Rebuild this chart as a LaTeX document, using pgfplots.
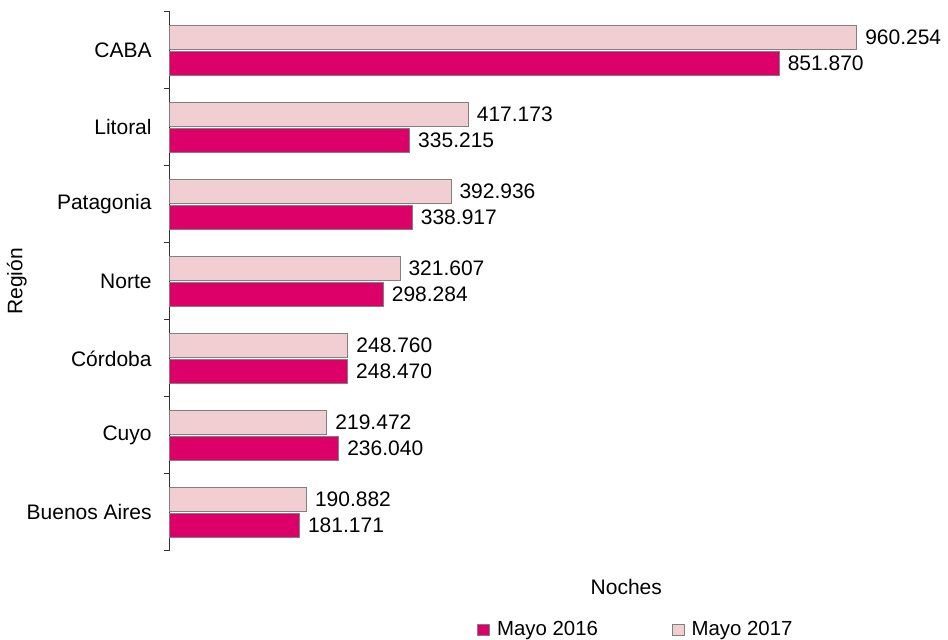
\documentclass[border=0pt]{standalone}
\usepackage{pgfplots}
\pgfplotsset{compat=1.18}
\usepackage{fontspec}
\setmainfont{Liberation Sans}

\definecolor{may16}{RGB}{220,0,104}
\definecolor{may17}{RGB}{240,206,210}
\definecolor{edge}{RGB}{128,128,128}

\begin{document}
\fontsize{10.5}{12.5}\selectfont
\begin{tikzpicture}
\begin{axis}[
    name=ax,
    scale only axis,
    clip=false,
    width=357.6pt, height=269.5pt,
    xbar,
    xmin=0, xmax=1000,
    ymin=-0.5, ymax=6.5,
    axis x line=none,
    axis y line*=left,
    y axis line style={black!80, line width=0.5pt},
    ytick={0,1,2,3,4,5,6},
    yticklabels={Buenos Aires,Cuyo,Córdoba,Norte,Patagonia,Litoral,CABA},
    major tick length=0pt,
    yticklabel style={xshift=-5.5pt},
    extra y ticks={-0.5,0.5,1.5,2.5,3.5,4.5,5.5,6.5},
    extra y tick labels={},
    extra y tick style={major tick length=3pt, tick align=outside, tick style={black!80, line width=0.5pt}},
    ytick pos=left,
    ylabel={Región},
    ylabel style={at={(axis description cs:-0.214,0.5)}, anchor=center},
    bar width=12pt,
    point meta=explicit symbolic,
    nodes near coords,
    nodes near coords style={anchor=west, inner sep=0pt, xshift=4pt, font=\fontsize{10.5}{12.5}\selectfont},
    legend columns=2,
    legend style={draw=none, at={(axis description cs:0.653,-0.1466)}, anchor=center,
        font=\fontsize{10.2}{12}\selectfont,
        /tikz/every odd column/.append style={column sep=1.5pt},
        /tikz/every even column/.append style={column sep=35pt}},
    legend image code/.code={\draw[#1, draw=edge, line width=0.5pt] (0pt,-2.9pt) rectangle (5.8pt,2.9pt);},
]
\addplot[fill=may16, draw=edge, line width=0.5pt, bar shift=-6.5pt] coordinates {
    (181.171,0) [181.171]
    (236.040,1) [236.040]
    (248.470,2) [248.470]
    (298.284,3) [298.284]
    (338.917,4) [338.917]
    (335.215,5) [335.215]
    (851.870,6) [851.870]
};
\addlegendentry{Mayo 2016}
\addplot[fill=may17, draw=edge, line width=0.5pt, bar shift=6.5pt] coordinates {
    (190.882,0) [190.882]
    (219.472,1) [219.472]
    (248.760,2) [248.760]
    (321.607,3) [321.607]
    (392.936,4) [392.936]
    (417.173,5) [417.173]
    (960.254,6) [960.254]
};
\addlegendentry{Mayo 2017}
\node at (axis description cs:0.638,-0.067) {Noches};
\end{axis}
\pgfresetboundingbox
\path[use as bounding box] ([xshift=-85pt,yshift=-44.5pt]ax.south west) rectangle ([xshift=389pt,yshift=6pt]ax.north west);
\end{tikzpicture}
\end{document}
